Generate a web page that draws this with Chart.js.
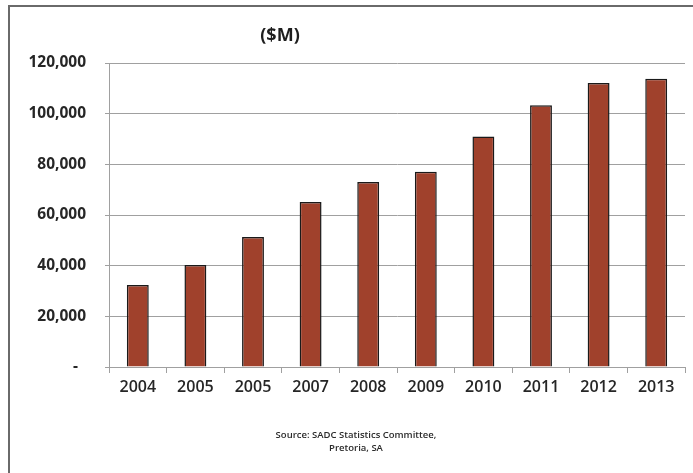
<!DOCTYPE html>
<html>
<head>
<meta charset="utf-8">
<script src="https://cdn.jsdelivr.net/npm/chart.js@4/dist/chart.umd.min.js"></script>
<style>
  html, body { margin: 0; padding: 0; background: #fff; overflow: hidden; }
  canvas { display: block; }
</style>
</head>
<body>
<canvas id="c" width="693" height="473"></canvas>
<script>
// Annual values in millions of US dollars
const years = ['2004', '2005', '2005', '2007', '2008', '2009', '2010', '2011', '2012', '2013'];
const values = [32400, 40300, 51300, 65100, 73000, 77100, 91000, 103300, 112100, 113800];
const yTicks = [0, 20000, 40000, 60000, 80000, 100000, 120000];
const titleText = '($M)';
const sourceLines = ['Source: SADC Statistics Committee,', 'Pretoria, SA'];

const textColor = '#262626';
const gridColor = '#a0a0a0';

// Page frame (left and top edges), title and source note
const notes = {
  id: 'notes',
  beforeDraw(chart) {
    const ctx = chart.ctx;
    ctx.save();
    ctx.strokeStyle = '#6a6a6a';
    ctx.lineWidth = 2;
    ctx.beginPath();
    ctx.moveTo(9, chart.height);
    ctx.lineTo(9, 6);
    ctx.lineTo(chart.width, 6);
    ctx.stroke();
    ctx.restore();
  },
  afterDraw(chart) {
    const ctx = chart.ctx;
    ctx.save();
    ctx.fillStyle = '#1e1e1e';
    ctx.textAlign = 'center';
    ctx.textBaseline = 'middle';
    ctx.font = 'bold 18px "Open Sans"';
    ctx.fillText(titleText, 280, 36);
    ctx.fillStyle = '#2a2a2a';
    ctx.font = '600 9.5px "Open Sans"';
    ctx.fillText(sourceLines[0], 356, 435);
    ctx.fillText(sourceLines[1], 356, 448);
    ctx.restore();
  }
};

new Chart(document.getElementById('c'), {
  type: 'bar',
  data: {
    labels: years,
    datasets: [{
      data: values,
      backgroundColor: '#a0412c',
      borderColor: '#1a1a1a',
      borderWidth: 1.5,
      barPercentage: 0.38,
      categoryPercentage: 1.0
    }]
  },
  options: {
    responsive: false,
    animation: false,
    layout: { padding: { left: 10, right: 8, top: 63, bottom: 0 } },
    plugins: { legend: { display: false }, tooltip: { enabled: false } },
    scales: {
      x: {
        offset: true,
        grid: { display: true, drawOnChartArea: false, drawTicks: true, tickLength: 6, color: gridColor, offset: true },
        border: { display: true, color: gridColor, width: 1 },
        ticks: { color: textColor, font: { family: 'Open Sans', size: 16, weight: '600' }, padding: 5, maxRotation: 0, autoSkip: false },
        afterFit(s) { s.height = 106; }
      },
      y: {
        min: 0,
        max: 120000,
        afterBuildTicks(s) { s.ticks = yTicks.map(v => ({ value: v })); },
        grid: { color: gridColor, lineWidth: 1, tickLength: 4 },
        border: { display: true, color: gridColor, width: 1 },
        ticks: {
          color: textColor,
          font: { family: 'Open Sans', size: 15.5, weight: '700' },
          padding: 19,
          callback: v => v === 0 ? '-  ' : v.toLocaleString('en-US')
        },
        afterFit(s) { s.width = 99; }
      }
    }
  },
  plugins: [notes]
});
</script>
</body>
</html>
